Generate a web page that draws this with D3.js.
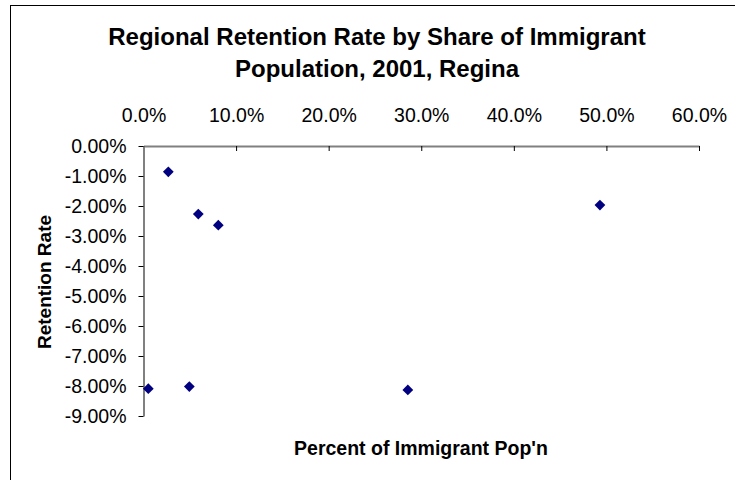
<!DOCTYPE html>
<html>
<head>
<meta charset="utf-8">
<script src="https://cdn.jsdelivr.net/npm/d3@7"></script>
<style>
  html, body { margin: 0; padding: 0; background: #fff; }
  svg { display: block; font-family: "Liberation Sans", Arial, sans-serif; }
</style>
</head>
<body>
<svg id="chart" width="735" height="480"></svg>
<script>
// Data
const immigrantShare = [0.0052, 0.0268, 0.0495, 0.0592, 0.0808, 0.2855, 0.4930];
const retentionRate  = [-0.0809, -0.0086, -0.0802, -0.0227, -0.0264, -0.0813, -0.0197];
const xTicks = [0, 0.1, 0.2, 0.3, 0.4, 0.5, 0.6];
const yTicks = [0, -0.01, -0.02, -0.03, -0.04, -0.05, -0.06, -0.07, -0.08, -0.09];
const titleLines = ["Regional Retention Rate by Share of Immigrant", "Population, 2001, Regina"];
const xTitle = "Percent of Immigrant Pop'n";
const yTitle = "Retention Rate";

const svg = d3.select("#chart");

// chart frame
svg.append("rect").attr("x", 10.5).attr("y", 5.5).attr("width", 760).attr("height", 500)
  .attr("fill", "#fff").attr("stroke", "#000").attr("stroke-width", 1);

const x = d3.scaleLinear().domain([0, 0.6]).range([143.5, 699]);
const y = d3.scaleLinear().domain([0, -0.09]).range([146, 416]);

const hyphenFmt = spec => { const f = d3.format(spec); return d => f(d).replace("\u2212", "-"); };

// title
svg.append("text").attr("x", 377).attr("y", 45)
  .attr("text-anchor", "middle").attr("font-size", 24).attr("font-weight", "bold")
  .selectAll("tspan").data(titleLines).join("tspan")
  .attr("x", 377).attr("dy", (d, i) => i === 0 ? 0 : 31.7).text(d => d);

// x axis (at top, y=0)
const xAxis = svg.append("g").attr("transform", `translate(0,${y(0)})`)
  .call(d3.axisTop(x).tickValues(xTicks).tickFormat(hyphenFmt(".1%"))
    .tickSizeInner(-5).tickSizeOuter(0).tickPadding(24));
xAxis.select(".domain").attr("stroke", "#808080").attr("stroke-width", 2);
xAxis.selectAll(".tick line").attr("stroke", "#000");
xAxis.selectAll(".tick text").attr("font-size", 19.5).attr("fill", "#000")
  .attr("font-family", "\"Liberation Sans\", Arial, sans-serif");

// y axis
const yAxis = svg.append("g").attr("transform", `translate(${x(0)},0)`)
  .call(d3.axisLeft(y).tickValues(yTicks).tickFormat(hyphenFmt(".2%"))
    .tickSizeInner(5).tickSizeOuter(0).tickPadding(12));
yAxis.select(".domain").attr("stroke", "#808080").attr("stroke-width", 2);
yAxis.selectAll(".tick line").attr("stroke", "#000");
yAxis.selectAll(".tick text").attr("font-size", 19.5).attr("fill", "#000")
  .attr("font-family", "\"Liberation Sans\", Arial, sans-serif");

// axis titles
svg.append("text").attr("x", 421).attr("y", 455)
  .attr("text-anchor", "middle").attr("font-size", 19.5).attr("font-weight", "bold")
  .text(xTitle);
svg.append("text").attr("transform", "translate(51,282) rotate(-90)")
  .attr("text-anchor", "middle").attr("font-size", 19).attr("font-weight", "bold")
  .text(yTitle);

// points (diamonds)
const diamond = d3.symbol().type(d3.symbolSquare).size(58);
svg.append("g").selectAll("path").data(immigrantShare).join("path")
  .attr("d", diamond)
  .attr("transform", (d, i) => `translate(${x(d)},${y(retentionRate[i])}) rotate(45)`)
  .attr("fill", "#000080");
</script>
</body>
</html>
